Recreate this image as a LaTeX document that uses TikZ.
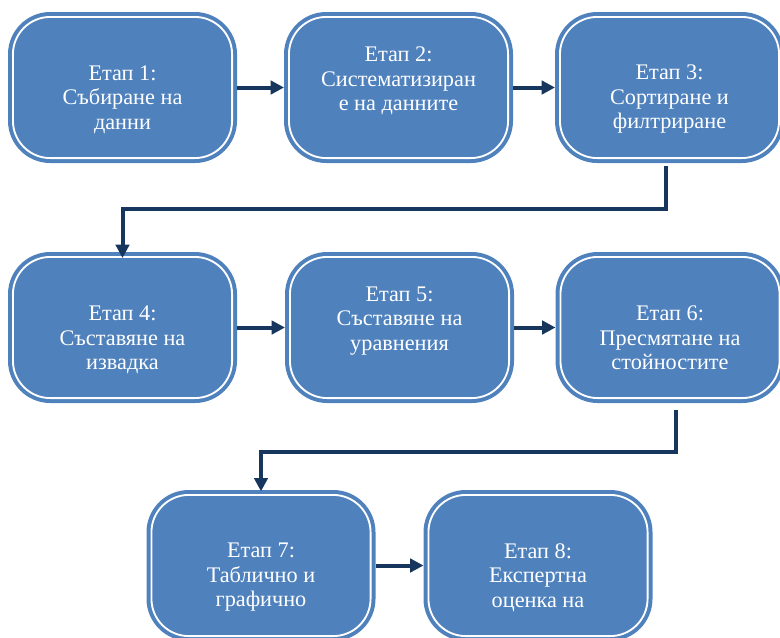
\documentclass[tikz,border=0pt]{standalone}
\usepackage{xcolor}
\usepackage{fontspec}
\setmainfont{Liberation Serif}
\usepackage{tikz}
\usetikzlibrary{arrows.meta}

\definecolor{boxblue}{RGB}{79,129,189}
\definecolor{arrownavy}{RGB}{23,54,93}

\begin{document}
\begin{tikzpicture}[x=0.75pt,y=0.75pt,yscale=-1,xscale=1,
    stage/.style={draw=boxblue, fill=boxblue, double=white, double distance=1.4pt, line width=3pt,
                  rounded corners=28pt, minimum width=164.35pt, minimum height=105.85pt, outer sep=3.7pt},
    stagetext/.style={text=white, align=center, inner sep=0pt, font=\fontsize{16.7}{18.4}\selectfont},
    flow/.style={draw=arrownavy, line width=3pt, -{Triangle[length=10pt,width=10pt]}}]
            \clip (0,0) rectangle (780,637);
            \useasboundingbox (0,0) rectangle (780,637);

            \node [stage] (s1) at (122.5,87.5) {};
            \node [stage] (s2) at (398.5,87.5) {};
            \node [stage] (s3) at (669.5,87.5) {};
            \node [stage] (s4) at (122.5,327.5) {};
            \node [stage] (s5) at (399.5,327.5) {};
            \node [stage] (s6) at (670,327.5) {};
            \node [stage] (s7) at (261,565.5) {};
            \node [stage] (s8) at (538,565.5) {};

            \node [stagetext] (t1) at (122.5,99.5) {Етап 1:\\Събиране на\\данни};
            \node [stagetext] (t2) at (398.5,81) {Етап 2:\\Систематизиран\\е на данните};
            \node [stagetext] (t3) at (669.5,99) {Етап 3:\\Сортиране и\\филтриране};
            \node [stagetext] (t4) at (122.5,340) {Етап 4:\\Съставяне на\\извадка};
            \node [stagetext] (t5) at (399.5,321) {Етап 5:\\Съставяне на\\уравнения};
            \node [stagetext] (t6) at (670,338) {Етап 6:\\Пресмятане на\\стойностите};
            \begin{scope}
            \clip (0,0) rectangle (780,612);
            \node [stagetext] (t7) at (261,577.5) {Етап 7:\\Таблично и\\графично};
            \node [stagetext] (t8) at (538,577.5) {Етап 8:\\Експертна\\оценка на};
            \end{scope}

            \draw [flow] (s1) -- (s2);
            \draw [flow] (s2) -- (s3);
            \draw [flow] (s3.south) ++(-3.5,3) -- ++(0,43) -| ([yshift=4.5pt]s4.north);
            \draw [flow] (s4) -- (s5);
            \draw [flow] (s5) -- (s6);
            \draw [flow] (s6.south) ++(6,7) -- ++(0,42) -| ([yshift=1pt]s7.north);
            \draw [flow] (s7) -- (s8);
\end{tikzpicture}
\end{document}
